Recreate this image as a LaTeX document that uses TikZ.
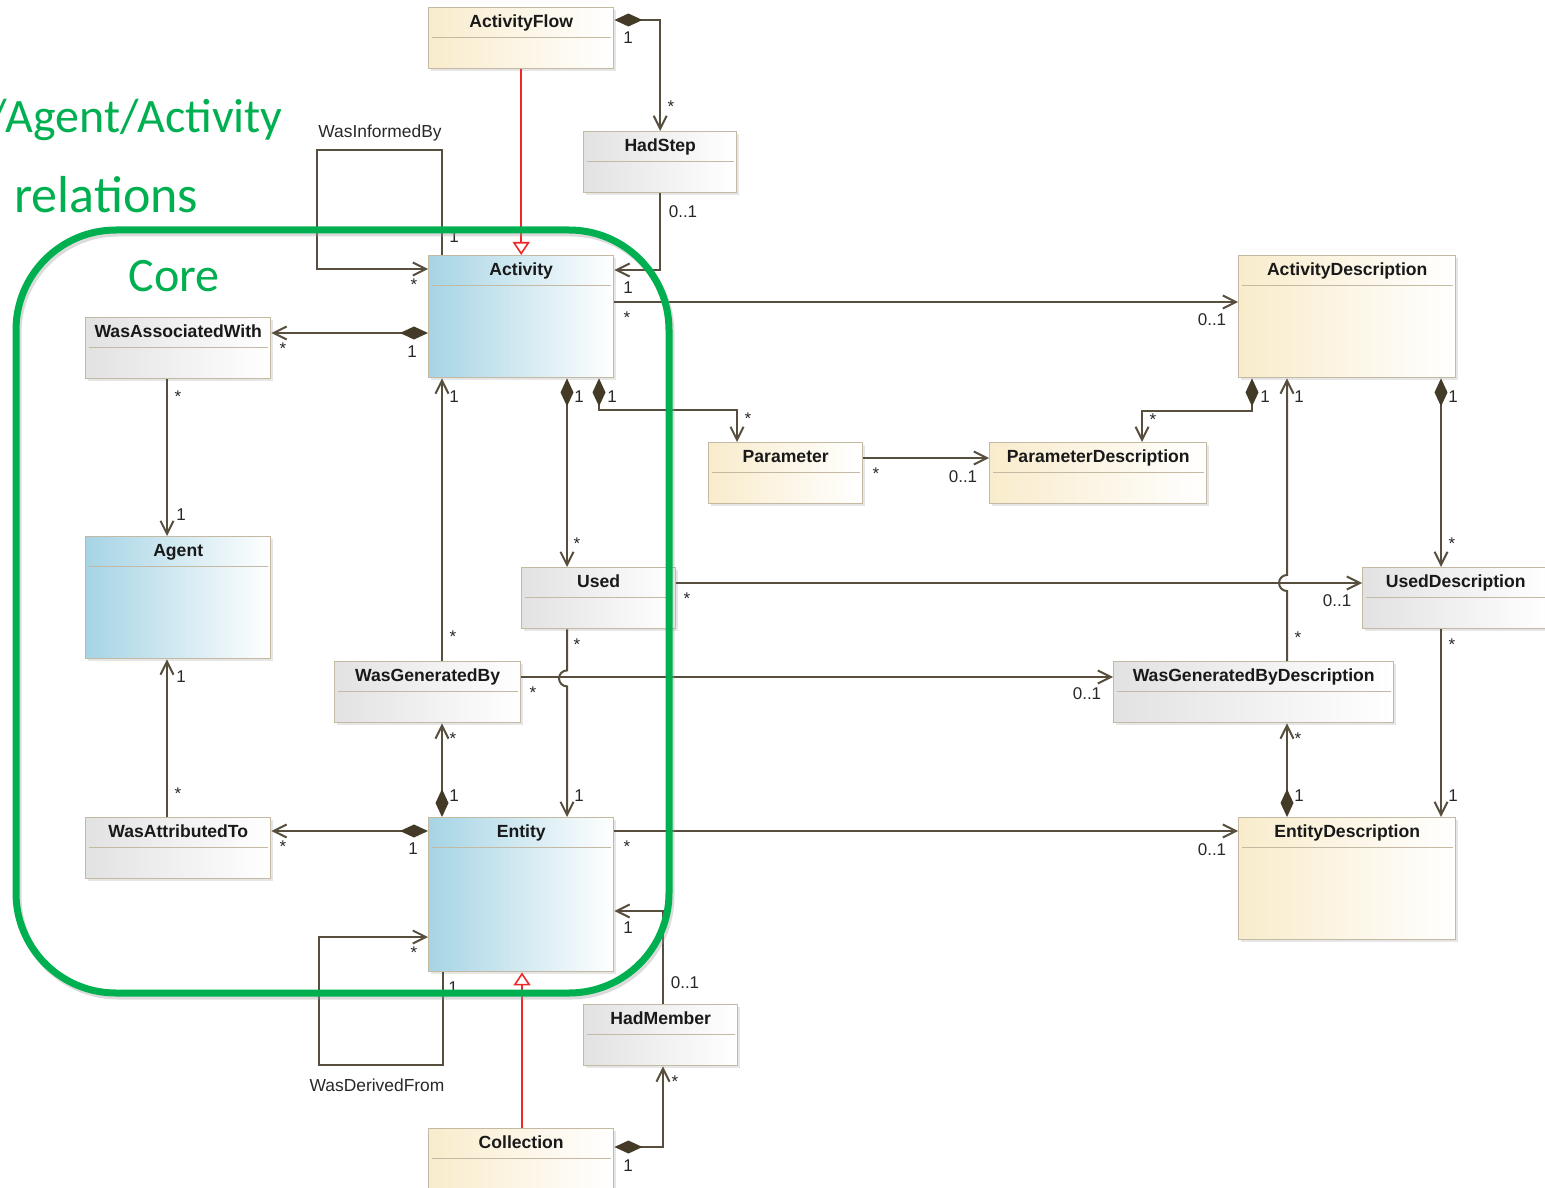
\documentclass[tikz,border=0pt]{standalone}
\usepackage{fontspec}
\setmainfont{Liberation Sans}
\newfontfamily\calibrifont{Carlito}
\usepackage{xcolor}
\usetikzlibrary{arrows.meta, calc, shadows}
\definecolor{umlline}{RGB}{88,78,62}
\definecolor{umldiamond}{RGB}{68,58,40}
\definecolor{umlborder}{RGB}{196,186,164}
\definecolor{corefill}{RGB}{166,212,228}
\definecolor{descfill}{RGB}{249,236,204}
\definecolor{relfill}{RGB}{226,226,226}
\definecolor{coregreen}{RGB}{0,176,80}
\definecolor{genred}{RGB}{238,40,40}
\definecolor{multtext}{RGB}{40,40,40}
\tikzset{
  umlclass/.style={rectangle, draw=umlborder, line width=0.7pt, anchor=north west, inner xsep=0pt, inner ysep=0pt, text height=10pt, font=\bfseries\fontsize{8.8}{10}\selectfont, text=black!90, right color=white, drop shadow={shadow xshift=1.2pt, shadow yshift=-1.2pt, opacity=0.2}, path picture={\draw[umlborder, line width=0.6pt] ([xshift=1.5pt,yshift=-15pt]path picture bounding box.north west) -- ([xshift=-1.5pt,yshift=-15pt]path picture bounding box.north east);}},
  coreclass/.style={umlclass, left color=corefill},
  descclass/.style={umlclass, left color=descfill},
  relclass/.style={umlclass, left color=relfill},
  shortbox/.style={text depth=20.5pt},
  tallbox/.style={text depth=51pt},
  assoc/.style={draw=umlline, line width=1pt, -{Straight Barb[length=6.5pt, width=6.5pt]}},
  comp/.style={assoc, {Diamond[length=14pt, width=6.5pt, fill=umldiamond, color=umldiamond]}-{Straight Barb[length=6.5pt, width=6.5pt]}},
  gen/.style={draw=genred, line width=0.8pt, -{Triangle[length=6.5pt, width=8.5pt, fill=white]}},
  mult/.style={font=\fontsize{8.5}{10}\selectfont, text=multtext, inner sep=0pt},
  rolelabel/.style={font=\fontsize{8.7}{10}\selectfont, text=multtext, inner sep=0pt},
  greentext/.style={font=\calibrifont\fontsize{24}{28}\selectfont, text=coregreen, inner sep=0pt},
  coreframe/.style={rectangle, rounded corners=50pt, line width=3.5pt, minimum width=326.5pt, minimum height=381.5pt, anchor=north west, inner sep=0pt, outer sep=0pt},
}
\begin{document}
\begin{tikzpicture}[x=0.5pt, y=-0.5pt]
  \useasboundingbox (0,0) rectangle (1545,1187);

  % Core classes and relations
  \node[descclass, shortbox, minimum width=92.5pt] (flow) at (428,7) {ActivityFlow};
  \node[relclass, shortbox, minimum width=76.5pt] (hadstep) at (583,131) {HadStep};
  \node[coreclass, tallbox, minimum width=92.5pt] (activity) at (428,255) {Activity};
  \node[relclass, shortbox, minimum width=92.5pt] (assoc) at (85,317) {WasAssociatedWith};
  \node[coreclass, tallbox, minimum width=92.5pt] (agent) at (85,536) {Agent};
  \node[relclass, shortbox, minimum width=77pt] (used) at (521,567) {Used};
  \node[relclass, shortbox, minimum width=93pt] (genby) at (334,661) {WasGeneratedBy};
  \node[relclass, shortbox, minimum width=92.5pt] (attrib) at (85,817) {WasAttributedTo};
  \node[coreclass, text depth=67pt, minimum width=92.5pt] (entity) at (428,817) {Entity};
  \node[relclass, shortbox, minimum width=77pt] (hadmember) at (583,1004) {HadMember};
  \node[descclass, shortbox, minimum width=92.5pt] (collection) at (428,1128) {Collection};

  % Description classes
  \node[descclass, shortbox, minimum width=77pt] (param) at (708,442) {Parameter};
  \node[descclass, shortbox, minimum width=108.5pt] (paramdesc) at (989,442) {ParameterDescription};
  \node[descclass, tallbox, minimum width=108.5pt] (actdesc) at (1238,255) {ActivityDescription};
  \node[relclass, shortbox, minimum width=93pt] (useddesc) at (1362,567) {UsedDescription};
  \node[relclass, shortbox, minimum width=140pt] (genbydesc) at (1113,661) {WasGeneratedByDescription};
  \node[descclass, tallbox, minimum width=108.5pt] (entdesc) at (1238,817) {EntityDescription};

  % Generalisations
  \draw[gen] (flow.south) -- (activity.north);
  \draw[gen] ($(collection.north west)+(94,0)$) -- ($(entity.south west)+(94,0)$);

  % Associations around Activity
  \draw[comp] ($(flow.north east)+(0,13)$) -| (hadstep.north);
  \draw[assoc] (hadstep.south) |- ($(activity.north east)+(0,15)$);
  \draw[assoc] ($(activity.north west)+(14,0)$) |- ++(-125,-105) |- ($(activity.north west)+(0,14)$);
  \node[rolelabel] (informed) at (380,133) {WasInformedBy};
  \draw[assoc] ($(activity.north east)+(0,47)$) -- ($(actdesc.north west)+(0,47)$);
  \draw[comp] ($(activity.north west)+(0,78)$) -- ($(assoc.north east)+(0,16)$);
  \draw[assoc] ($(assoc.south west)+(82,0)$) -- ($(agent.north west)+(82,0)$);
  \draw[assoc] ($(genby.north west)+(108,0)$) -- ($(activity.south west)+(14,0)$);
  \draw[comp] ($(activity.south west)+(139,0)$) -- ($(used.north west)+(46,0)$);
  \draw[comp] ($(activity.south west)+(171,0)$) |- ($(param.north west)+(29,-32)$) -- ($(param.north west)+(29,0)$);

  % Associations around Entity
  \draw[assoc] ($(attrib.north west)+(82,0)$) -- ($(agent.south west)+(82,0)$);
  \draw[comp] ($(entity.north west)+(0,14)$) -- ($(attrib.north east)+(0,14)$);
  \draw[comp] ($(entity.north west)+(14,0)$) -- ($(genby.south west)+(108,0)$);
  \draw[assoc] ($(used.south west)+(46,0)$) -- ++(0,41) arc[start angle=-90, end angle=-270, radius=8] -- ($(entity.north west)+(139,0)$);
  \draw[assoc] ($(entity.south west)+(15,0)$) |- ++(-124,93) |- ($(entity.north west)+(0,120)$);
  \node[rolelabel] (derived) at (377,1085) {WasDerivedFrom};
  \draw[assoc] ($(hadmember.north west)+(80,0)$) |- ($(entity.north east)+(0,94)$);
  \draw[comp] ($(collection.north east)+(0,19)$) -| ($(hadmember.south west)+(80,0)$);

  % Links to descriptions
  \draw[assoc] ($(used.north east)+(0,16)$) -- ($(useddesc.north west)+(0,16)$);
  \draw[assoc] ($(genby.north east)+(0,16)$) -- ($(genbydesc.north west)+(0,16)$);
  \draw[assoc] ($(entity.north east)+(0,14)$) -- ($(entdesc.north west)+(0,14)$);
  \draw[assoc] ($(param.north east)+(0,16)$) -- ($(paramdesc.north west)+(0,16)$);
  \draw[assoc] ($(genbydesc.north west)+(174,0)$) -- ++(0,-70) arc[start angle=90, end angle=270, radius=8] -- ($(actdesc.south west)+(49,0)$);
  \draw[comp] ($(actdesc.south west)+(14,0)$) |- ($(paramdesc.north west)+(153,-31)$) -- ($(paramdesc.north west)+(153,0)$);
  \draw[comp] ($(actdesc.south west)+(203,0)$) -- ($(useddesc.north west)+(79,0)$);
  \draw[assoc] ($(useddesc.south west)+(79,0)$) -- ($(entdesc.north west)+(203,0)$);
  \draw[comp] ($(entdesc.north west)+(49,0)$) -- ($(genbydesc.south west)+(174,0)$);

  % Multiplicities
  \node[mult] (m1) at (628,38) {1};
  \node[mult] (m2) at (671,107) {*};
  \node[mult] (m3) at (683,212) {0..1};
  \node[mult] (m4) at (628,288) {1};
  \node[mult] (m5) at (414,285) {*};
  \node[mult] (m6) at (454,237) {1};
  \node[mult] (m7) at (627,318) {*};
  \node[mult] (m8) at (1212,320) {0..1};
  \node[mult] (m9) at (412,352) {1};
  \node[mult] (m10) at (283,349) {*};
  \node[mult] (m11) at (178,397) {*};
  \node[mult] (m12) at (181,515) {1};
  \node[mult] (m13) at (181,677) {1};
  \node[mult] (m14) at (178,794) {*};
  \node[mult] (m15) at (413,849) {1};
  \node[mult] (m16) at (283,847) {*};
  \node[mult] (m17) at (454,397) {1};
  \node[mult] (m18) at (453,637) {*};
  \node[mult] (m19) at (454,796) {1};
  \node[mult] (m20) at (453,739) {*};
  \node[mult] (m21) at (579,397) {1};
  \node[mult] (m22) at (577,544) {*};
  \node[mult] (m23) at (612,397) {1};
  \node[mult] (m24) at (748,419) {*};
  \node[mult] (m25) at (577,645) {*};
  \node[mult] (m26) at (579,796) {1};
  \node[mult] (m27) at (533,693) {*};
  \node[mult] (m28) at (1087,694) {0..1};
  \node[mult] (m29) at (687,599) {*};
  \node[mult] (m30) at (1337,601) {0..1};
  \node[mult] (m31) at (1298,638) {*};
  \node[mult] (m32) at (1299,397) {1};
  \node[mult] (m33) at (1265,397) {1};
  \node[mult] (m34) at (1153,420) {*};
  \node[mult] (m35) at (876,474) {*};
  \node[mult] (m36) at (963,477) {0..1};
  \node[mult] (m37) at (1453,397) {1};
  \node[mult] (m38) at (1452,544) {*};
  \node[mult] (m39) at (1452,645) {*};
  \node[mult] (m40) at (1453,796) {1};
  \node[mult] (m41) at (1298,739) {*};
  \node[mult] (m42) at (1299,796) {1};
  \node[mult] (m43) at (627,847) {*};
  \node[mult] (m44) at (1212,850) {0..1};
  \node[mult] (m45) at (685,983) {0..1};
  \node[mult] (m46) at (628,928) {1};
  \node[mult] (m47) at (628,1166) {1};
  \node[mult] (m48) at (675,1082) {*};
  \node[mult] (m49) at (414,953) {*};
  \node[mult] (m50) at (453,988) {1};

  % Core frame
  \node[coreframe, draw=black!40, opacity=0.35] (coreshade) at (18,233) {};
  \node[coreframe, draw=coregreen] (core) at (16,230) {};
  \node[greentext, anchor=base east] (heading) at (283,133) {/Agent/Activity};
  \node[greentext, anchor=base west, font=\calibrifont\fontsize{26}{30}\selectfont] (relations) at (14,213) {relations};
  \node[greentext, anchor=base] (corename) at (174,292) {Core};
\end{tikzpicture}
\end{document}
